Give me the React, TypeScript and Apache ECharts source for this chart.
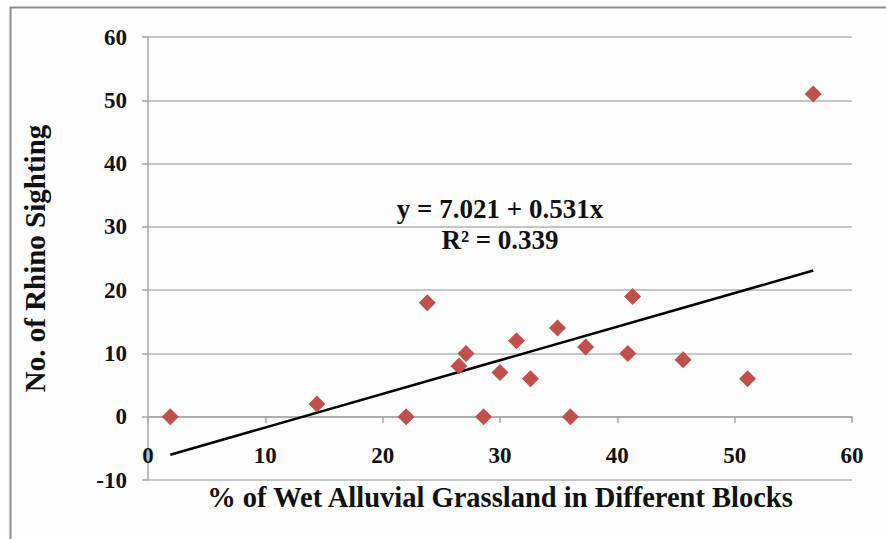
import React, { useEffect, useRef } from "react";
import * as echarts from "echarts";

const wetGrasslandPct = [1.9, 14.4, 22.0, 23.8, 26.5, 27.1, 28.6, 30.0, 31.4, 32.6, 34.9, 36.0, 37.3, 40.9, 41.3, 45.6, 51.1, 56.7];
const rhinoSightings = [0, 2, 0, 18, 8, 10, 0, 7, 12, 6, 14, 0, 11, 10, 19, 9, 6, 51];
const trendX = [1.9, 56.7];
const trendY = [-6.0, 23.1];
const xTicks = { min: 0, max: 60, interval: 10 };
const yTicks = { min: -10, max: 60, interval: 10 };
const equationText = "y = 7.021 + 0.531x";
const r2Text = "R² = 0.339";
const xTitle = "% of Wet Alluvial Grassland in Different Blocks";
const yTitle = "No. of Rhino Sighting";

const FONT = "'Liberation Serif', 'Times New Roman', serif";

const GRID_TOP = 37;
const GRID_BOTTOM = 59;
const CHART_H = 539;

export default function App() {
  const ref = useRef<HTMLDivElement>(null);
  useEffect(() => {
    if (!ref.current) return;
    const chart = echarts.init(ref.current, undefined, { renderer: "svg" });
    const points = wetGrasslandPct.map((x, i) => [x, rhinoSightings[i]]);
    const trend = trendX.map((x, i) => [x, trendY[i]]);
    // x axis crosses the y axis at 0: move it up from the grid bottom to the zero line
    const plotH = CHART_H - GRID_TOP - GRID_BOTTOM;
    const zeroShift = (plotH * (0 - yTicks.min)) / (yTicks.max - yTicks.min);
    chart.setOption({
      animation: false,
      backgroundColor: "#fdfdfd",
      grid: { left: 148, right: 34, top: GRID_TOP, bottom: GRID_BOTTOM, outerBoundsMode: "none", containLabel: false },
      xAxis: {
        type: "value",
        min: xTicks.min,
        max: xTicks.max,
        interval: xTicks.interval,
        offset: -zeroShift,
        axisLine: { show: true, onZero: false, lineStyle: { color: "#a6a6a6", width: 1.5 } },
        axisTick: { show: true, length: 6, lineStyle: { color: "#a6a6a6", width: 1.5 } },
        axisLabel: { fontFamily: FONT, fontWeight: "bold", fontSize: 23, color: "#111", margin: 27 },
        splitLine: { show: false },
        name: xTitle,
        nameLocation: "middle",
        nameGap: 66,
        nameTextStyle: { fontFamily: FONT, fontWeight: "bold", fontSize: 28.5, color: "#111" },
      },
      yAxis: {
        type: "value",
        min: yTicks.min,
        max: yTicks.max,
        interval: yTicks.interval,
        axisLine: { show: true, onZero: false, lineStyle: { color: "#a6a6a6", width: 1.5 } },
        axisTick: { show: true, length: 6, lineStyle: { color: "#a6a6a6", width: 1.5 } },
        axisLabel: { fontFamily: FONT, fontWeight: "bold", fontSize: 23, color: "#111", margin: 21 },
        splitLine: { show: true, lineStyle: { color: "#b3b3b3", width: 1.5 } },
        name: yTitle,
        nameLocation: "middle",
        nameGap: 99,
        nameTextStyle: { fontFamily: FONT, fontWeight: "bold", fontSize: 29, color: "#111" },
      },
      series: [
        {
          type: "line",
          data: trend,
          showSymbol: false,
          symbol: "none",
          lineStyle: { color: "#000", width: 2.5 },
          z: 3,
        },
        {
          type: "scatter",
          data: points,
          symbol: "diamond",
          symbolSize: 17,
          itemStyle: { color: "#c0504d", opacity: 1 },
          z: 4,
        },
      ],
      graphic: [
        {
          type: "rect",
          shape: { x: 10.5, y: 7.5, width: 1000, height: 1000 },
          style: { fill: "none", stroke: "#8c8c8c", lineWidth: 2 },
          silent: true,
        },
        {
          type: "text",
          x: 500,
          y: 209,
          style: {
            text: equationText,
            fontFamily: FONT,
            fontWeight: "bold",
            fontSize: 27,
            fill: "#111",
            align: "center",
            verticalAlign: "middle",
          },
        },
        {
          type: "text",
          x: 500,
          y: 240,
          style: {
            text: r2Text,
            fontFamily: FONT,
            fontWeight: "bold",
            fontSize: 27,
            fill: "#111",
            align: "center",
            verticalAlign: "middle",
          },
        },
      ],
    });
    return () => chart.dispose();
  }, []);
  return (
    <div
      ref={ref}
      style={{ position: "fixed", left: 0, top: 0, width: 886, height: 539 }}
    />
  );
}
